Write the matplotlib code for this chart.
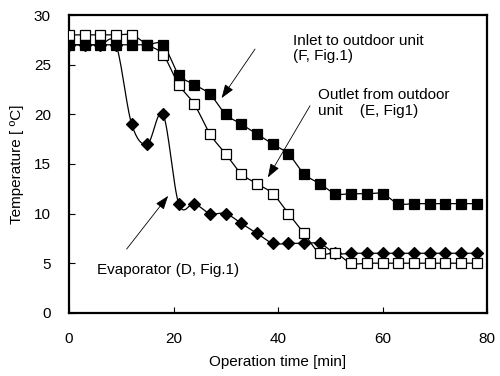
import numpy as np
import matplotlib
matplotlib.use("Agg")
import matplotlib.pyplot as plt

plt.rcParams['font.family'] = ['Liberation Sans', 'DejaVu Sans']

# === Data (every 3 min) ===
time_min = list(range(0, 79, 3))
inlet_F = [27, 27, 27, 27, 27, 27, 27, 24, 23, 22, 20, 19, 18, 17,
           16, 14, 13, 12, 12, 12, 12, 11, 11, 11, 11, 11, 11]
outlet_E = [28, 28, 28, 28, 28, 27, 26, 23, 21, 18, 16, 14, 13, 12,
            10, 8, 6, 6, 5, 5, 5, 5, 5, 5, 5, 5, 5]
evap_D = [27, 27, 27, 27, 19, 17, 20, 11, 11, 10, 10, 9, 8, 7,
          7, 7, 7, 6, 6, 6, 6, 6, 6, 6, 6, 6, 6]

x_ticks = [0, 20, 40, 60, 80]
y_ticks = [0, 5, 10, 15, 20, 25, 30]


def smooth(x, y, n=16):
    # Catmull-Rom curve through the points (like a spreadsheet "smoothed line")
    x = np.asarray(x, float)
    y = np.asarray(y, float)
    px = np.concatenate([[x[0]], x, [x[-1]]])
    py = np.concatenate([[y[0]], y, [y[-1]]])
    xs, ys = [], []
    t = np.linspace(0, 1, n, endpoint=False)
    for i in range(1, len(px) - 2):
        p0, p1, p2, p3 = (np.array([px[j], py[j]]) for j in range(i - 1, i + 3))
        for tt in t:
            pt = 0.5 * ((2 * p1) + (-p0 + p2) * tt
                        + (2 * p0 - 5 * p1 + 4 * p2 - p3) * tt ** 2
                        + (-p0 + 3 * p1 - 3 * p2 + p3) * tt ** 3)
            xs.append(pt[0])
            ys.append(pt[1])
    xs.append(x[-1])
    ys.append(y[-1])
    return xs, ys


fig = plt.figure(figsize=(5.0, 3.76), dpi=100)
ax = fig.add_axes([0.138, 0.168, 0.836, 0.792])

for vals, mk, fc in [(evap_D, 'D', 'black'),
                     (outlet_E, 's', 'white'),
                     (inlet_F, 's', 'black')]:
    sx, sy = smooth(time_min, vals)
    ax.plot(sx, sy, color='black', lw=0.9, zorder=2)
    ax.plot(time_min, vals, ls='none', marker=mk, ms=6.5, mfc=fc,
            mec='black', mew=0.9, zorder=3)

ax.set_xlim(0, 80)
ax.set_ylim(0, 30)
ax.set_xticks(x_ticks)
ax.set_yticks(y_ticks)
ax.tick_params(direction='in', length=4, width=0.8, labelsize=11)
ax.tick_params(axis='x', pad=14)
ax.tick_params(axis='y', pad=13)
for s in ax.spines.values():
    s.set_linewidth(1.6)
ax.set_xlabel('Operation time [min]', fontsize=11, labelpad=6)
ax.set_ylabel('Temperature [ ºC]', fontsize=11, labelpad=7)

arrow = dict(arrowstyle='-|>,head_length=0.7,head_width=0.25',
             color='black', lw=0.6, mutation_scale=12)
ax.annotate('', xy=(28.9, 21.4), xytext=(35.9, 26.8), arrowprops=arrow)
ax.text(42.9, 28.1, 'Inlet to outdoor unit\n(F, Fig.1)', fontsize=11,
        va='top', ha='left', linespacing=1.1)
ax.annotate('', xy=(37.8, 13.4), xytext=(46.4, 21.1), arrowprops=arrow)
ax.text(47.7, 22.6, 'Outlet from outdoor\nunit    (E, Fig1)', fontsize=11,
        va='top', ha='left', linespacing=1.1)
ax.annotate('', xy=(19.3, 12.0), xytext=(10.7, 6.2), arrowprops=arrow)
ax.text(5.3, 4.3, 'Evaporator (D, Fig.1)', fontsize=11,
        va='center', ha='left')

fig.savefig('out.png', dpi=100)
